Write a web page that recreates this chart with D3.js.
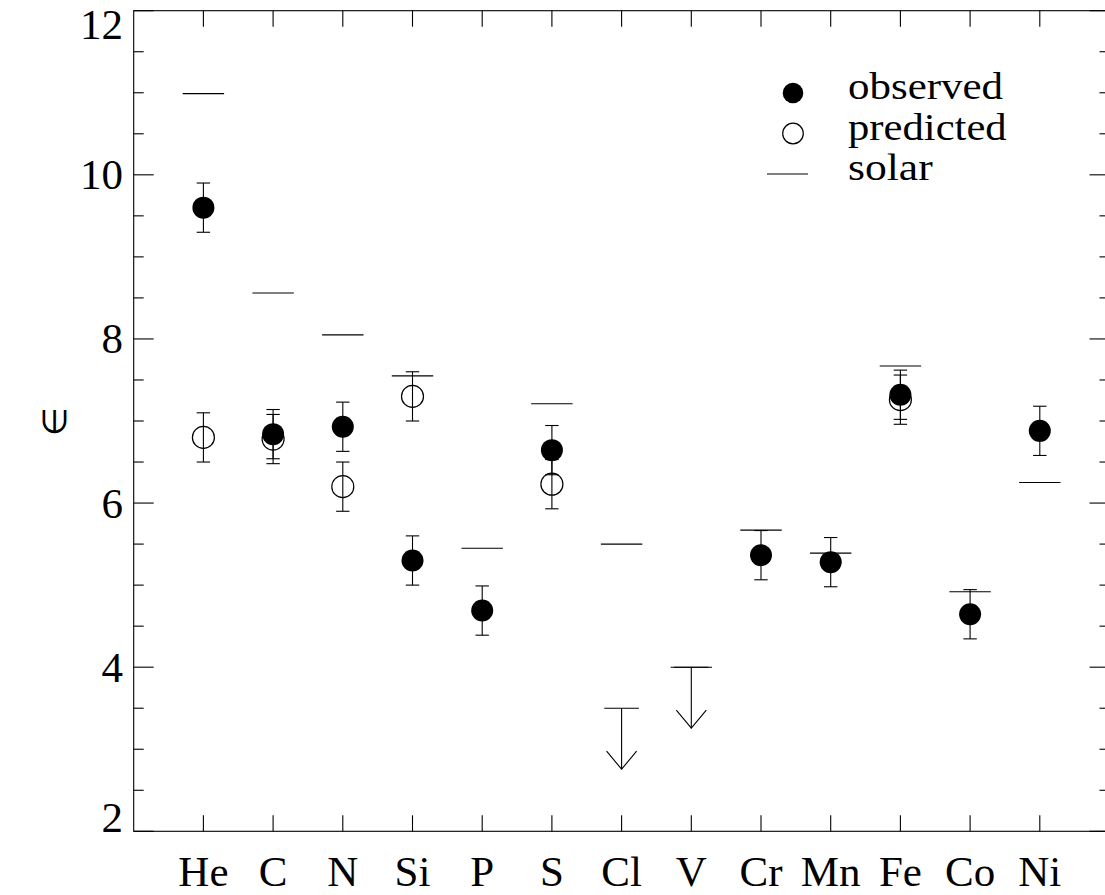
<!DOCTYPE html>
<html>
<head>
<meta charset="utf-8">
<script src="https://cdn.jsdelivr.net/npm/d3@7"></script>
<style>
  html, body { margin: 0; padding: 0; background: #fff; }
  svg { display: block; }
  text { font-family: "Liberation Serif", "Times New Roman", serif; fill: #000; }
</style>
</head>
<body>
<svg id="chart" width="1105" height="895"></svg>
<script>
// ---- data ----
const elements   = ["He", "C", "N", "Si", "P", "S", "Cl", "V", "Cr", "Mn", "Fe", "Co", "Ni"];
const observed   = [9.60, 6.84, 6.93, 5.30, 4.69, 6.645, null, null, 5.365, 5.28, 7.32, 4.645, 6.88];
const observedErr= [0.3, 0.3, 0.3, 0.3, 0.3, 0.3, null, null, 0.3, 0.3, 0.3, 0.3, 0.3];
const predicted  = [6.80, 6.78, 6.20, 7.30, null, 6.23, null, null, null, null, 7.26, null, null];
const predictedErr=[0.3, 0.3, 0.3, 0.3, null, 0.3, null, null, null, null, 0.3, null, null];
const solar      = [10.99, 8.56, 8.05, 7.55, 5.45, 7.21, 5.50, 4.00, 5.67, 5.39, 7.67, 4.92, 6.25];
const upperLimit = [null, null, null, null, null, null, 3.50, 4.00, null, null, null, null, null];
const yTicks     = [2, 4, 6, 8, 10, 12];
const legendLabels = ["observed", "predicted", "solar"];

// ---- layout ----
const svg = d3.select("#chart");
const X0 = 133.7, X1 = 1109.5, Y0 = 831.3, Y1 = 10.7;
const x = d3.scaleLinear().domain([0, elements.length + 1]).range([X0, X1]);
const y = d3.scaleLinear().domain([2, 12]).range([Y0, Y1]);
const pos = i => x(i + 1);
const stroke = "#000", sw = 1.1;

const g = svg.append("g");

// frame
g.append("rect").attr("x", X0).attr("y", Y1).attr("width", X1 - X0).attr("height", Y0 - Y1)
  .attr("fill", "none").attr("stroke", stroke).attr("stroke-width", sw);

// y ticks (major every 2, minor every 0.5) on left and right
const minorVals = d3.range(2, 12.001, 0.5);
minorVals.forEach(v => {
  const major = Math.abs(v / 2 - Math.round(v / 2)) < 1e-6;
  const len = major ? 20 : 10;
  g.append("line").attr("x1", X0).attr("x2", X0 + len).attr("y1", y(v)).attr("y2", y(v))
    .attr("stroke", stroke).attr("stroke-width", sw);
  g.append("line").attr("x1", X1).attr("x2", X1 - len).attr("y1", y(v)).attr("y2", y(v))
    .attr("stroke", stroke).attr("stroke-width", sw);
});

// y tick labels
yTicks.forEach(v => {
  const base = Math.max(38.5, Math.min(y(v) + 14.5, 832));
  g.append("text").attr("x", 123).attr("y", base).attr("text-anchor", "end")
    .attr("font-size", 43).text(v);
});

// x ticks top and bottom + labels
elements.forEach((e, i) => {
  g.append("line").attr("x1", pos(i)).attr("x2", pos(i)).attr("y1", Y0).attr("y2", Y0 - 16)
    .attr("stroke", stroke).attr("stroke-width", sw);
  g.append("line").attr("x1", pos(i)).attr("x2", pos(i)).attr("y1", Y1).attr("y2", Y1 + 16)
    .attr("stroke", stroke).attr("stroke-width", sw);
  g.append("text").attr("x", pos(i)).attr("y", 886).attr("text-anchor", "middle")
    .attr("font-size", 43).text(e);
});

// y axis label (rotated epsilon)
g.append("text").attr("transform", "translate(66,421) rotate(-90)")
  .attr("text-anchor", "middle").attr("font-size", 33).text("\u2208");

// error bars
function errBar(i, v, e) {
  const cx = pos(i), cap = 6.7;
  g.append("line").attr("x1", cx).attr("x2", cx).attr("y1", y(v + e)).attr("y2", y(v - e))
    .attr("stroke", stroke).attr("stroke-width", sw);
  [v + e, v - e].forEach(t => {
    g.append("line").attr("x1", cx - cap).attr("x2", cx + cap).attr("y1", y(t)).attr("y2", y(t))
      .attr("stroke", stroke).attr("stroke-width", sw);
  });
}
elements.forEach((e, i) => {
  if (observed[i] != null) errBar(i, observed[i], observedErr[i]);
  if (predicted[i] != null) errBar(i, predicted[i], predictedErr[i]);
});

// solar lines
elements.forEach((e, i) => {
  if (solar[i] == null) return;
  g.append("line").attr("x1", pos(i) - 20.7).attr("x2", pos(i) + 20.7)
    .attr("y1", y(solar[i])).attr("y2", y(solar[i]))
    .attr("stroke", stroke).attr("stroke-width", sw);
});

// upper limits (arrows)
elements.forEach((e, i) => {
  if (upperLimit[i] == null) return;
  const cx = pos(i), top = y(upperLimit[i]), tip = top + 61;
  g.append("line").attr("x1", cx - 17.3).attr("x2", cx + 17.3).attr("y1", top).attr("y2", top)
    .attr("stroke", stroke).attr("stroke-width", sw);
  g.append("line").attr("x1", cx).attr("x2", cx).attr("y1", top).attr("y2", tip)
    .attr("stroke", stroke).attr("stroke-width", sw);
  g.append("path").attr("d", `M${cx - 15},${tip - 18}L${cx},${tip}L${cx + 15},${tip - 18}`)
    .attr("fill", "none").attr("stroke", stroke).attr("stroke-width", sw);
});

// predicted (open) circles
elements.forEach((e, i) => {
  if (predicted[i] == null) return;
  g.append("circle").attr("cx", pos(i)).attr("cy", y(predicted[i])).attr("r", 11)
    .attr("fill", "none").attr("stroke", stroke).attr("stroke-width", 1.2);
});
// observed (filled) circles
elements.forEach((e, i) => {
  if (observed[i] == null) return;
  g.append("circle").attr("cx", pos(i)).attr("cy", y(observed[i])).attr("r", 11)
    .attr("fill", "#000");
});

// legend
const lx = 793, ly = 93, ldy = 40.5, ltx = 848;
const legendWidths = [155, 158.7, 84.7];
legendLabels.forEach((lab, k) => {
  const yy = ly + k * ldy;
  if (k === 0) g.append("circle").attr("cx", lx).attr("cy", yy).attr("r", 10.3).attr("fill", "#000");
  if (k === 1) g.append("circle").attr("cx", lx).attr("cy", yy).attr("r", 10.3)
    .attr("fill", "none").attr("stroke", stroke).attr("stroke-width", 1.2);
  if (k === 2) g.append("line").attr("x1", lx - 26).attr("x2", lx + 15).attr("y1", yy).attr("y2", yy)
    .attr("stroke", stroke).attr("stroke-width", sw);
  g.append("text").attr("x", ltx).attr("y", yy + 6).attr("font-size", 38)
    .attr("textLength", legendWidths[k]).attr("lengthAdjust", "spacingAndGlyphs").text(lab);
});
</script>
</body>
</html>
